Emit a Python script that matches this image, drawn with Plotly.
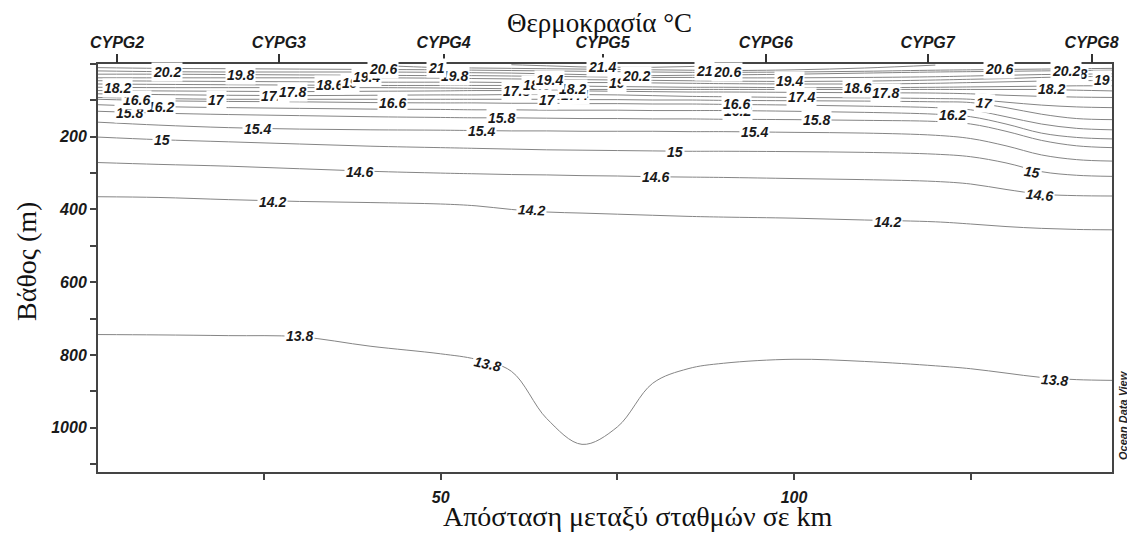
import plotly.graph_objects as go

# distance along the section (km) at which each isotherm depth was read
dist_km = [1.5, 10, 20, 30, 40, 50, 55, 60, 65, 70, 75, 80, 85, 90, 100, 110, 120, 125, 130, 135, 140, 145]

# isotherm depths (m) at dist_km, None where the isotherm does not exist
iso_13_8 = [744, 745, 747, 750, 776, 797, 812, 845, 975, 1046, 998, 878, 838, 823, 812, 818, 830, 838, 850, 862, 868, 870]
iso_14_2 = [365, 367, 373, 378, 381, 385, 390, 400, 407, 410, 413, 416, 419, 421, 424, 429, 434, 440, 447, 452, 455, 456]
iso_14_6 = [271, 276, 281, 288, 295, 300, 302, 304, 305, 307, 308, 310, 311, 312, 315, 318, 323, 330, 345, 358, 362, 363]
iso_15_0 = [201, 208, 214, 220, 226, 230, 232, 234, 236, 237, 238, 239, 240, 240, 241, 243, 248, 255, 272, 296, 306, 309]
iso_15_4 = [160, 168, 175, 179, 181, 182, 183, 184, 184, 185, 185, 185, 186, 186, 188, 190, 196, 205, 225, 250, 263, 267]
iso_15_8 = [130, 135, 139, 142, 145, 147, 148, 148, 149, 150, 150, 151, 151, 152, 153, 155, 158, 165, 185, 210, 225, 230]
iso_16_2 = [112, 117, 120, 122, 124, 125, 126, 126, 127, 127, 127, 128, 128, 128, 130, 133, 138, 145, 165, 190, 202, 206]
iso_16_6 = [97, 101, 103, 104, 106, 107, 107, 108, 108, 109, 109, 110, 110, 111, 113, 116, 120, 126, 145, 165, 177, 181]
iso_17_0 = [92, 95, 97, 97, 97, 97, 97, 97, 97, 98, 98, 99, 99, 100, 101, 102, 104, 106, 120, 138, 150, 153]
iso_17_4 = [82, 84, 86, 87, 86, 85, 85, 84, 84, 84, 85, 87, 89, 90, 92, 93, 95, 97, 105, 113, 118, 120]
iso_17_8 = [73, 74, 75, 76, 75, 74, 73, 73, 73, 74, 75, 76, 77, 77, 78, 79, 80, 82, 86, 89, 91, 92]
iso_18_2 = [64, 65, 65, 65, 65, 66, 67, 68, 69, 70, 70, 70, 70, 70, 70, 70, 70, 70, 70, 70, 72, 74]
iso_18_6 = [55, 56, 57, 58, 59, 59, 59, 59, 60, 61, 62, 63, 64, 64, 65, 65, 64, 63, 62, 61, 60, 60]
iso_19_0 = [46, 47, 48, 49, 50, 50, 50, 51, 51, 51, 51, 52, 53, 54, 55, 55, 53, 51, 49, 47, 46, 45]
iso_19_4 = [38, 38, 38, 38, 38, 39, 40, 41, 42, 43, 44, 45, 46, 47, 48, 47, 44, 42, 40, 37, 35, 34]
iso_19_8 = [28, 28, 29, 30, 31, 32, 32, 33, 34, 35, 36, 37, 37, 38, 38, 37, 35, 33, 31, 29, 28, 27]
iso_20_2 = [19, 21, 22, 22, 22, 23, 24, 25, 27, 29, 31, 32, 31, 30, 28, 25, 22, 21, 20, 19, 18, 17]
iso_20_6 = [10, 12, 13, 14, 15, 16, 17, 18, 19, 20, 21, 22, 23, 23, 22, 20, 17, 16, 15, 14, 13, 12]
iso_21_0 = [None, None, None, None, 3, 10, 11, 12, 13, 14, 15, 16, 17, 18, 16, 11, 3, None, None, None, None, None]
iso_21_4 = [None, None, None, None, None, None, None, 2, 5, 8, 9, 9, 7, 4, None, None, None, None, None, None, None, None]

levels = [13.8, 14.2, 14.6, 15.0, 15.4, 15.8, 16.2, 16.6, 17.0, 17.4,
          17.8, 18.2, 18.6, 19.0, 19.4, 19.8, 20.2, 20.6, 21.0, 21.4]
isotherms = [iso_13_8, iso_14_2, iso_14_6, iso_15_0, iso_15_4, iso_15_8, iso_16_2, iso_16_6, iso_17_0, iso_17_4,
             iso_17_8, iso_18_2, iso_18_6, iso_19_0, iso_19_4, iso_19_8, iso_20_2, iso_20_6, iso_21_0, iso_21_4]

# stations on the top axis
stations = ["CYPG2", "CYPG3", "CYPG4", "CYPG5", "CYPG6", "CYPG7", "CYPG8"]
station_km = [4.2, 27.1, 50.4, 72.9, 96.0, 118.9, 142.1]

# contour labels
label_text = ["13.8", "13.8", "13.8", "14.2", "14.2", "14.2", "14.6", "14.6", "14.6", "15", "15", "15",
              "15.4", "15.4", "15.4", "15.8", "15.8", "15.8", "16.2", "16.2", "16.2", "16.6", "16.6", "16.6",
              "17", "17", "17", "17.4", "17.4", "17.4", "17.8", "17.8", "17.8", "18.2", "18.2", "18.2",
              "18.6", "18.6", "18.6", "19", "19", "19", "19.4", "19.4", "19.4", "19.8", "19.8", "19.8",
              "20.2", "20.2", "20.2", "20.6", "20.6", "20.6", "21", "21", "21.4"]
label_km = [30.0, 56.6, 136.9, 26.2, 62.9, 113.2, 38.5, 80.4, 134.7, 10.5, 83.2, 133.7,
            24.1, 55.8, 94.4, 6.0, 58.6, 103.2, 10.3, 92.0, 122.4, 7.0, 43.2, 91.9,
            18.3, 65.1, 126.9, 26.5, 69.0, 101.0, 29.0, 60.7, 113.0, 4.3, 68.7, 136.4,
            34.3, 63.6, 109.0, 37.1, 74.9, 143.6, 39.5, 65.4, 99.4, 21.6, 52.0, 139.5,
            11.2, 77.7, 138.5, 41.8, 90.5, 129.0, 49.4, 87.3, 72.8]
label_depth = [748, 824, 868, 379, 401, 434, 297, 310, 360, 208, 241, 297,
               178, 183, 186, 134, 148, 153, 117, 128, 139, 100, 106, 111,
               98, 98, 106, 87, 84, 92, 76, 73, 79, 65, 70, 70,
               59, 59, 65, 51, 51, 45, 37, 43, 48, 29, 32, 28,
               21, 32, 18, 15, 23, 15, 10, 18, 9]
label_angle = {1: 12, 2: 4, 4: 3, 8: 5, 11: 8, 26: 5}

label_font = dict(family="Liberation Sans, Arial", size=14, color="#1a1a1a", weight="bold", style="italic")
tick_font = dict(family="Liberation Sans, Arial", size=16, color="#1a1a1a", weight="bold", style="italic")
serif = dict(family="Liberation Serif, Times New Roman", size=28, color="#111")

fig = go.Figure()
for lev, dep in zip(levels, isotherms):
    fig.add_trace(go.Scatter(x=dist_km, y=dep, mode="lines", name=f"{lev}",
                             line=dict(color="#858585", width=1, shape="spline", smoothing=1.0),
                             showlegend=False, hoverinfo="skip"))

# invisible trace so the station axis gets drawn
fig.add_trace(go.Scatter(x=station_km, y=[0] * len(station_km), xaxis="x2", mode="markers",
                         marker=dict(opacity=0), showlegend=False, hoverinfo="skip"))

for i, (t, xk, d) in enumerate(zip(label_text, label_km, label_depth)):
    fig.add_annotation(x=xk, y=d, xref="x", yref="y", text=t, showarrow=False,
                       xanchor="center", yanchor="middle",
                       textangle=label_angle.get(i, 0), bgcolor="white", borderpad=1, font=label_font)

fig.add_annotation(x=0.495, y=1.1, xref="paper", yref="paper", text="Θερμοκρασία °C",
                   xanchor="center", yanchor="middle", showarrow=False, font=dict(serif, size=27))
fig.add_annotation(x=-0.07, y=0.515, xref="paper", yref="paper", text="Βάθος (m)",
                   xanchor="center", yanchor="middle", showarrow=False, textangle=-90, font=serif)
fig.add_annotation(x=0.5325, y=-0.11, xref="paper", yref="paper", text="Απόσταση μεταξύ σταθμών σε km",
                   xanchor="center", yanchor="middle", showarrow=False, font=serif)
fig.add_annotation(x=1.011, y=0.025, xref="paper", yref="paper", text="Ocean Data View",
                   xanchor="center", yanchor="bottom", showarrow=False, textangle=-90,
                   font=dict(family="Liberation Sans, Arial", size=11, color="#222", weight="bold", style="italic"))

# the page body adds an 8 px offset, so the figure is sized and margined for that
fig.update_layout(
    width=1127, height=527,
    margin=dict(l=90, r=23, t=56, b=63),
    paper_bgcolor="white", plot_bgcolor="white",
    xaxis=dict(range=[1.5, 145], tickvals=[50, 100], ticks="outside", ticklen=6, tickwidth=1.5,
               tickcolor="#444", minor=dict(dtick=25, tick0=0, ticks="outside", ticklen=6, tickcolor="#444"),
               showline=True, linecolor="#444", linewidth=2, mirror=True, showgrid=False, zeroline=False,
               tickfont=tick_font, ticklabelstandoff=4),
    xaxis2=dict(overlaying="x", side="top", range=[1.5, 145], tickvals=station_km, ticktext=stations,
                ticks="outside", ticklen=9, tickwidth=1.5, tickcolor="#333", showgrid=False, zeroline=False,
                showline=False, tickfont=tick_font, ticklabelstandoff=0),
    yaxis=dict(range=[1122, 0], tickvals=[200, 400, 600, 800, 1000], ticks="outside", ticklen=6, tickwidth=1.5,
               tickcolor="#444", minor=dict(dtick=100, tick0=0, ticks="outside", ticklen=6, tickcolor="#444"),
               showline=True, linecolor="#444", linewidth=2, mirror=True, showgrid=False, zeroline=False,
               tickfont=tick_font),
)

fig.write_html("out.html")
